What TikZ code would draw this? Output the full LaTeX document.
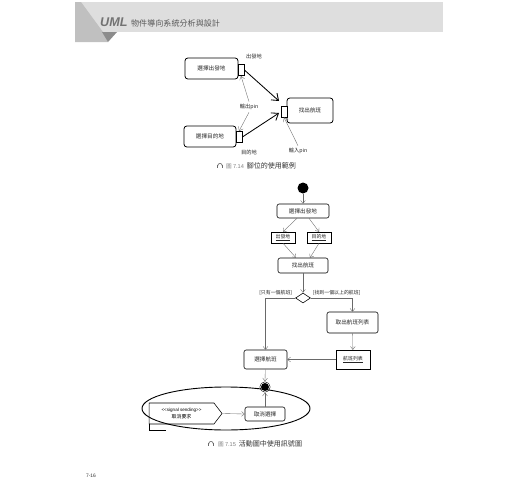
\documentclass[tikz,border=0pt]{standalone}
\usepackage{fontspec}
\setsansfont{Liberation Sans}
\newfontfamily\cjk{Noto Sans CJK TC}
\usepackage{tikz}
\usetikzlibrary{arrows.meta,positioning,calc,shapes.geometric,shapes.symbols}
\definecolor{bandgray}{RGB}{222,222,222}
\definecolor{tabgray}{RGB}{192,192,192}
\definecolor{tabdark}{RGB}{140,140,140}
\definecolor{inkgray}{RGB}{105,105,105}
\tikzset{
  actbox/.style={draw, rounded corners=3pt, line width=0.8pt, inner sep=0pt,
    font=\cjk\fontsize{8}{9}\selectfont, text=black!85},
  bigact/.style={actbox, line width=1.1pt, rounded corners=4pt},
  pinbox/.style={draw, line width=1.1pt, fill=white, inner sep=0pt,
    minimum width=0.3cm, minimum height=0.55cm},
  objbox/.style={draw, line width=0.7pt, inner sep=0pt,
    font=\cjk\fontsize{7}{8}\selectfont, text=black!85},
  pinflow/.style={-{Straight Barb[length=3mm,width=4.5mm]}, line width=1.2pt},
  callout/.style={-{Straight Barb[length=1.8mm,width=2.6mm]}, draw=inkgray, line width=0.5pt},
  flow/.style={-{Straight Barb[length=1.5mm,width=2.4mm]}, draw=inkgray, line width=0.5pt},
  lbl/.style={font=\cjk\fontsize{7.5}{8}\selectfont, text=black!85},
  guard/.style={font=\cjk\fontsize{7}{8}\selectfont, text=black!85, inner sep=1pt},
  caption/.style={anchor=west, inner sep=0pt, font=\cjk\fontsize{10}{11}\selectfont, text=black!80},
  capicon/.pic={
    \begin{scope}[x=1pt, y=1pt]
      \draw[inkgray, line width=0.9pt] (-3.2,0.5) arc (180:0:3.2);
      \fill[inkgray] (-4,-3.5) rectangle (-2.2,0.8);
      \fill[inkgray] (2.2,-3.5) rectangle (4,0.8);
    \end{scope}
  },
}

\begin{document}
\begin{tikzpicture}[x=0.05cm, y=-0.05cm]
  \useasboundingbox (0,0) rectangle (520,500);
  \fill[white] (0,0) rectangle (520,500);

  % page header
  \fill[bandgray] (75,2) rectangle (443,32);
  \fill[tabgray] (75,2) -- (81,2) -- (103,32) -- (108,42) -- (75,42) -- cycle;
  \fill[tabdark] (102,32) -- (117,32) -- (108,42) -- cycle;
  \node[anchor=base west, inner sep=0pt, text=black!55,
    font=\sffamily\bfseries\itshape\fontsize{18}{18}\selectfont] (uml) at (100,26) {UML};
  \node[anchor=base west, inner sep=0pt, text=black!65,
    font=\cjk\fontsize{11.5}{12}\selectfont] (booktitle) at (131,26) {物件導向系統分析與設計};

  % figure 7.14
  \node[bigact, minimum width=2.65cm, minimum height=1.05cm] (depart) at (211.5,68.5) {選擇出發地};
  \node[pinbox] (pinout) at (241,70) {};
  \node[bigact, minimum width=2.6cm, minimum height=1.05cm] (dest) at (210,136.5) {選擇目的地};
  \node[pinbox] (pindest) at (239,137) {};
  \node[bigact, minimum width=2.3cm, minimum height=1.25cm] (find) at (310,110.5) {找出航班};
  \node[pinbox] (pinin) at (284,111.5) {};

  \node[lbl] (departlbl) at (254,57) {出發地};
  \node[lbl] (destlbl) at (249,152) {目的地};
  \node[lbl] (outlbl) at (249,107) {輸出pin};
  \node[lbl] (inlbl) at (298,151) {輸入pin};

  \coordinate (tipA) at (279,101);
  \coordinate (tipB) at (279,113);
  \draw[pinflow] (pinout.east) -- (tipA);
  \draw[pinflow] (pindest.east) -- (tipB);
  \draw[callout] (outlbl.north) -- (pinout.south);
  \draw[callout] (outlbl.south) -- (pindest.north);
  \draw[callout] (inlbl.north) -- (pinin.south);

  \pic at (220,166) {capicon};
  \node[caption] (cap714) at (226,166)
    {{\fontsize{8}{9}\selectfont\color{black!50}圖 \sffamily 7.14}\hspace{4pt}腳位的使用範例};

  % figure 7.15
  \node[circle, fill=black, minimum size=0.55cm, inner sep=0pt] (start) at (303,188) {};
  \node[actbox, minimum width=2.6cm, minimum height=0.7cm] (sel) at (303,211) {選擇出發地};
  \node[objbox, minimum width=1.2cm, minimum height=0.55cm] (objdep) at (283,237.5) {\underline{出發地}};
  \node[objbox, minimum width=1.2cm, minimum height=0.55cm] (objdest) at (319,237.5) {\underline{目的地}};
  \node[actbox, minimum width=2.5cm, minimum height=0.75cm] (find2) at (303,265.5) {找出航班};
  \node[diamond, draw, line width=0.8pt, fill=white, inner sep=0pt,
    minimum width=0.75cm, minimum height=0.5cm] (dec) at (303,298) {};
  \node[actbox, minimum width=2.55cm, minimum height=1.05cm] (fetch) at (352.5,322.5) {取出航班列表};
  \node[objbox, minimum width=1.7cm, minimum height=0.95cm] (flist) at (353,359.5) {\underline{航班列表}};
  \node[actbox, minimum width=2.15cm, minimum height=0.95cm] (pick) at (265.5,359.5) {選擇航班};
  \node[actbox, minimum width=2cm, minimum height=0.7cm] (cancel) at (265,414) {取消選擇};
  \node[signal, signal to=east, signal from=nowhere, signal pointer angle=105,
    draw, line width=0.8pt, fill=white, inner sep=0pt, align=center,
    minimum width=3.65cm, minimum height=1.05cm] (sig) at (181.5,413.5)
    {{\sffamily\fontsize{6.5}{8}\selectfont <{}<signal sending>{}>}\\[-1pt]
     {\cjk\fontsize{7}{8}\selectfont 取消要求}};
  \coordinate (sigtail) at (166,430);
  \draw[line width=0.6pt] (sig.south west) |- (sigtail);
  \draw[line width=1.3pt] (226,408.5) ellipse [x radius=4.2cm, y radius=1.075cm];
  \node[circle, fill=black, minimum size=0.4cm, inner sep=0pt] (final) at (265,387) {};
  \draw[line width=0.6pt] (final.center) circle (0.26cm);

  \node[guard, anchor=south east] (guardone) at (293,296) {[只有一個航班]};
  \node[guard, anchor=south west] (guardmany) at (312,296) {[找到一個以上的航班]};

  \draw[flow] (start) -- (sel);
  \draw[flow] ($(sel.south)+(-6,0)$) -- (objdep.north);
  \draw[flow] ($(sel.south)+(6,0)$) -- (objdest.north);
  \draw[flow] (objdep.south) -- ($(find2.north)+(-7,0)$);
  \draw[flow] (objdest.south) -- ($(find2.north)+(7,0)$);
  \draw[flow] (find2) -- (dec);
  \draw[flow] (dec.west) -| (pick.north);
  \draw[flow] (dec.east) -| (fetch.north);
  \draw[flow] (fetch) -- (flist);
  \draw[flow] (flist) -- (pick);
  \draw[flow] (pick) -- ($(final.north)+(0,-1.5)$);
  \draw[flow] (cancel) -- ($(final.south)+(0,1.5)$);
  \draw[flow] (sig.east) -- (cancel.west);

  \pic at (211,444) {capicon};
  \node[caption] (cap715) at (218,444)
    {{\fontsize{8}{9}\selectfont\color{black!50}圖 \sffamily 7.15}\hspace{4pt}活動圖中使用訊號圖};

  \node[inner sep=0pt, font=\sffamily\fontsize{7}{8}\selectfont, text=black!80] (pageno) at (91,476) {7-16};
\end{tikzpicture}
\end{document}
